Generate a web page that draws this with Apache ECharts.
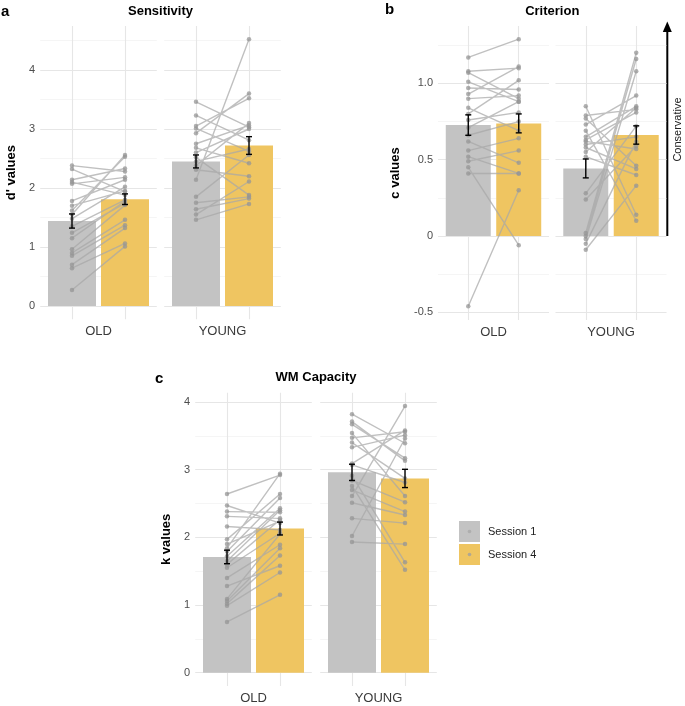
<!DOCTYPE html>
<html><head><meta charset="utf-8">
<script src="https://cdn.jsdelivr.net/npm/echarts@6/dist/echarts.min.js"></script>
<style>html,body{margin:0;padding:0;background:#fff}#c{width:685px;height:706px}</style>
</head><body><div id="c"></div>
<script>
const groups = ['OLD', 'YOUNG'];
const sessions = ['Session 1', 'Session 4'];
const sessionX = [0, 1];

// a: Sensitivity (d')
const sensOldS1 = [2.38, 2.32, 2.14, 2.10, 2.07, 1.78, 1.70, 1.62, 1.55, 1.48, 1.35, 1.24, 1.15, 0.96, 0.90, 0.85, 0.70, 0.64, 0.27];
const sensOldS4 = [2.28, 1.94, 2.33, 1.88, 2.18, 2.14, 1.95, 2.53, 2.56, 2.02, 1.80, 1.74, 1.78, 1.71, 1.46, 1.37, 1.32, 1.06, 1.01];
const sensYoungS1 = [3.46, 3.23, 3.05, 3.01, 2.93, 2.75, 2.68, 2.60, 2.52, 2.45, 2.38, 2.31, 2.14, 1.85, 1.75, 1.64, 1.55, 1.46];
const sensYoungS4 = [3.03, 2.81, 3.52, 2.62, 3.60, 3.06, 2.42, 3.00, 1.88, 2.66, 3.10, 2.20, 4.52, 2.56, 1.85, 1.82, 2.11, 1.73];
const sensMeanOld = [1.44, 1.81], sensSeOld = [0.12, 0.09];
const sensMeanYoung = [2.45, 2.72], sensSeYoung = [0.11, 0.15];
const sensTicks = [0, 1, 2, 3, 4];
const sensMinor = [0.5, 1.5, 2.5, 3.5, 4.5];

// b: Criterion (c)
const critOldS1 = [1.17, 1.08, 1.07, 1.01, 0.97, 0.93, 0.90, 0.84, 0.80, 0.76, 0.71, 0.66, 0.62, 0.56, 0.52, 0.49, 0.45, 0.41, -0.46];
const critOldS4 = [1.29, 1.10, 0.90, 0.88, 0.96, 1.11, 0.92, 0.69, 1.02, 0.81, 0.88, 0.75, 0.48, 0.64, 0.41, 0.56, -0.06, 0.41, 0.30];
const critYoungS1 = [0.85, 0.79, 0.77, 0.73, 0.69, 0.65, 0.63, 0.62, 0.60, 0.58, 0.55, 0.52, 0.28, 0.24, 0.02, 0.00, -0.02, -0.05, -0.09];
const critYoungS4 = [0.14, 0.83, 0.46, 0.92, 0.10, 0.85, 0.81, 0.57, 0.65, 0.44, 0.84, 0.40, 0.72, 0.59, 1.20, 1.16, 1.08, 0.62, 0.33];
const critMeanOld = [0.727, 0.738], critSeOld = [0.067, 0.062];
const critMeanYoung = [0.443, 0.662], critSeYoung = [0.062, 0.060];
const critTicks = [-0.5, 0, 0.5, 1.0];
const critTickLabels = ['-0.5', '0', '0.5', '1.0'];
const critMinor = [-0.25, 0.25, 0.75, 1.25];

// c: WM Capacity (k)
const wmOldS1 = [2.64, 2.47, 2.38, 2.31, 2.16, 1.97, 1.90, 1.84, 1.79, 1.72, 1.65, 1.60, 1.55, 1.40, 1.28, 1.09, 1.06, 1.02, 0.99, 0.75];
const wmOldS4 = [2.92, 2.21, 2.37, 2.28, 2.11, 2.64, 2.24, 2.94, 2.58, 2.43, 2.40, 2.26, 2.06, 1.89, 1.58, 2.05, 1.84, 1.73, 1.48, 1.15];
const wmYoungS1 = [3.82, 3.71, 3.67, 3.54, 3.47, 3.40, 3.33, 3.09, 3.07, 2.91, 2.84, 2.76, 2.70, 2.61, 2.51, 2.28, 2.02, 1.93];
const wmYoungS4 = [3.39, 3.13, 3.17, 2.61, 3.56, 2.87, 3.51, 3.58, 2.81, 1.63, 2.52, 1.52, 2.38, 3.94, 2.33, 2.21, 3.46, 1.90];
const wmMeanOld = [1.71, 2.13], wmSeOld = [0.10, 0.095];
const wmMeanYoung = [2.96, 2.87], wmSeYoung = [0.12, 0.135];
const wmTicks = [0, 1, 2, 3, 4];
const wmMinor = [0.5, 1.5, 2.5, 3.5];

const FONT = '"Liberation Sans", Arial, Helvetica, sans-serif';
const GRAY = '#C3C3C3', YELLOW = '#EFC561';
const LINE = 'rgba(168,168,168,0.72)';
const POINT = 'rgba(150,150,150,0.75)';
const GRID_MAJOR = '#E6E6E6', GRID_MINOR = '#EFEFEF';

const panels = [
  { title: 'Sensitivity', tag: 'a', yName: "d' values", top: 26, height: 293.3, min: -0.226, max: 4.746,
    lefts: [40.2, 164.2], width: 116.6, barWidth: 48, ticks: sensTicks, tickLabels: sensTicks.map(String), minors: sensMinor, nameGap: 22,
    facets: [
      { s1: sensOldS1, s4: sensOldS4, mean: sensMeanOld, se: sensSeOld },
      { s1: sensYoungS1, s4: sensYoungS4, mean: sensMeanYoung, se: sensSeYoung } ] },
  { title: 'Criterion', tag: 'b', yName: 'c values', top: 26, height: 294, min: -0.55, max: 1.376,
    lefts: [438, 555.5], width: 111, barWidth: 45, ticks: critTicks, tickLabels: critTickLabels, minors: critMinor, nameGap: 36,
    facets: [
      { s1: critOldS1, s4: critOldS4, mean: critMeanOld, se: critSeOld },
      { s1: critYoungS1, s4: critYoungS4, mean: critMeanYoung, se: critSeYoung } ] },
  { title: 'WM Capacity', tag: 'c', yName: 'k values', top: 392.7, height: 294, min: -0.197, max: 4.137,
    lefts: [195.2, 320.2], width: 116.6, barWidth: 48, ticks: wmTicks, tickLabels: wmTicks.map(String), minors: wmMinor, nameGap: 22,
    facets: [
      { s1: wmOldS1, s4: wmOldS4, mean: wmMeanOld, se: wmSeOld },
      { s1: wmYoungS1, s4: wmYoungS4, mean: wmMeanYoung, se: wmSeYoung } ] }
];

const grid = [], xAxis = [], yAxis = [], series = [], graphic = [];

function renderErr(params, api) {
  const x = api.value(0), lo = api.value(1), hi = api.value(2);
  const p1 = api.coord([x, hi]), p2 = api.coord([x, lo]);
  const w = 3;
  const st = { stroke: '#000', lineWidth: 1.4 };
  return { type: 'group', children: [
    { type: 'line', shape: { x1: p1[0], y1: p1[1], x2: p2[0], y2: p2[1] }, style: st },
    { type: 'line', shape: { x1: p1[0] - w, y1: p1[1], x2: p1[0] + w, y2: p1[1] }, style: st },
    { type: 'line', shape: { x1: p2[0] - w, y1: p2[1], x2: p2[0] + w, y2: p2[1] }, style: st }
  ] };
}

let idx = 0;
panels.forEach(function (p) {
  p.facets.forEach(function (f, fi) {
    grid.push({ left: p.lefts[fi], top: p.top, width: p.width, height: p.height, containLabel: false });
    xAxis.push({ type: 'value', gridIndex: idx, min: -0.6, max: 1.6,
      axisLine: { show: false, onZero: false }, axisTick: { show: false }, axisLabel: { show: false }, splitLine: { show: false },
      name: groups[fi], nameLocation: 'middle', nameGap: 6,
      nameTextStyle: { fontFamily: FONT, fontSize: 13, color: '#3a3a3a', verticalAlign: 'top' } });
    yAxis.push({ type: 'value', gridIndex: idx, min: p.min, max: p.max,
      axisLine: { show: false, onZero: false }, axisTick: { show: false }, splitLine: { show: false },
      axisLabel: fi === 0 ? { show: true, customValues: p.ticks, margin: 5, fontFamily: FONT, fontSize: 11, color: '#4d4d4d',
        formatter: function (v) { const k = p.ticks.indexOf(v); return k >= 0 ? p.tickLabels[k] : ''; } } : { show: false },
      name: fi === 0 ? p.yName : '', nameLocation: 'middle', nameGap: p.nameGap, nameRotate: 90,
      nameTextStyle: { fontFamily: FONT, fontSize: 13, fontWeight: 'bold', color: '#000' } });

    const gridLines = [];
    p.ticks.forEach(function (v) { gridLines.push({ yAxis: v, lineStyle: { color: GRID_MAJOR, width: 1.1, type: 'solid' } }); });
    p.minors.forEach(function (v) { gridLines.push({ yAxis: v, lineStyle: { color: GRID_MINOR, width: 0.6, type: 'solid' } }); });
    sessionX.forEach(function (v) { gridLines.push({ xAxis: v, lineStyle: { color: GRID_MAJOR, width: 1.1, type: 'solid' } }); });

    series.push({ type: 'bar', name: sessions[0], xAxisIndex: idx, yAxisIndex: idx, z: 2,
      data: [[sessionX[0], f.mean[0]]], barWidth: p.barWidth, barGap: '-100%',
      itemStyle: { color: GRAY }, emphasis: { disabled: true }, silent: true,
      markLine: { silent: true, z: 1, symbol: ['none', 'none'], label: { show: false }, animation: false, data: gridLines } });
    series.push({ type: 'bar', name: sessions[1], xAxisIndex: idx, yAxisIndex: idx, z: 2,
      data: [[sessionX[1], f.mean[1]]], barWidth: p.barWidth, barGap: '-100%',
      itemStyle: { color: YELLOW }, emphasis: { disabled: true }, silent: true });

    const pts = [];
    f.s1.forEach(function (v, i) {
      pts.push([sessionX[0], v]); pts.push([sessionX[1], f.s4[i]]); pts.push([sessionX[1], '-']);
    });
    series.push({ type: 'line', name: 'subjects', xAxisIndex: idx, yAxisIndex: idx, z: 3, data: pts,
      connectNulls: false, symbol: 'circle', symbolSize: 4.5, showSymbol: true, showAllSymbol: true,
      lineStyle: { color: LINE, width: 1.4 }, itemStyle: { color: POINT }, emphasis: { disabled: true }, silent: true });

    series.push({ type: 'custom', name: 'se', xAxisIndex: idx, yAxisIndex: idx, z: 4, silent: true,
      data: sessionX.map(function (x, k) { return [x, f.mean[k] - f.se[k], f.mean[k] + f.se[k]]; }),
      encode: { x: 0, y: [1, 2] }, renderItem: renderErr });
    idx++;
  });
  const cx = p.lefts[0] + (p.lefts[1] + p.width - p.lefts[0]) / 2;
  graphic.push({ type: 'text', x: cx, y: p.top - 15, silent: true,
    style: { text: p.title, align: 'center', verticalAlign: 'middle', fontFamily: FONT, fontSize: 13, fontWeight: 'bold', fill: '#000' } });
});

// panel tags
graphic.push({ type: 'text', x: 1, y: 12, style: { text: 'a', verticalAlign: 'middle', fontFamily: FONT, fontSize: 15, fontWeight: 'bold', fill: '#000' } });
graphic.push({ type: 'text', x: 385, y: 10, style: { text: 'b', verticalAlign: 'middle', fontFamily: FONT, fontSize: 15, fontWeight: 'bold', fill: '#000' } });
graphic.push({ type: 'text', x: 155, y: 379, style: { text: 'c', verticalAlign: 'middle', fontFamily: FONT, fontSize: 15, fontWeight: 'bold', fill: '#000' } });

// Conservative arrow
graphic.push({ type: 'line', shape: { x1: 667.3, y1: 236, x2: 667.3, y2: 30 }, style: { stroke: '#000', lineWidth: 2 } });
graphic.push({ type: 'polygon', shape: { points: [[662.8, 32], [671.8, 32], [667.3, 21.5]] }, style: { fill: '#000' } });
graphic.push({ type: 'text', x: 678, y: 129.5, rotation: Math.PI / 2,
  style: { text: 'Conservative', align: 'center', verticalAlign: 'middle', fontFamily: FONT, fontSize: 11, fill: '#222' } });

// legend key dots
graphic.push({ type: 'circle', shape: { cx: 469.5, cy: 531.5, r: 1.8 }, style: { fill: 'rgba(160,160,160,0.6)' }, z: 100 });
graphic.push({ type: 'circle', shape: { cx: 469.5, cy: 554.5, r: 1.8 }, style: { fill: 'rgba(160,160,160,0.8)' }, z: 100 });

const chart = echarts.init(document.getElementById('c'), null, { renderer: 'canvas' });
chart.setOption({
  animation: false,
  backgroundColor: '#fff',
  textStyle: { fontFamily: FONT },
  grid: grid, xAxis: xAxis, yAxis: yAxis, series: series,
  legend: { data: sessions, orient: 'vertical', left: 459, top: 521, itemWidth: 21, itemHeight: 21, itemGap: 2,
    icon: 'rect', selectedMode: false, padding: 0,
    textStyle: { fontFamily: FONT, fontSize: 11, color: '#222', padding: [0, 0, 0, 3] } },
  graphic: graphic
});
</script></body></html>
